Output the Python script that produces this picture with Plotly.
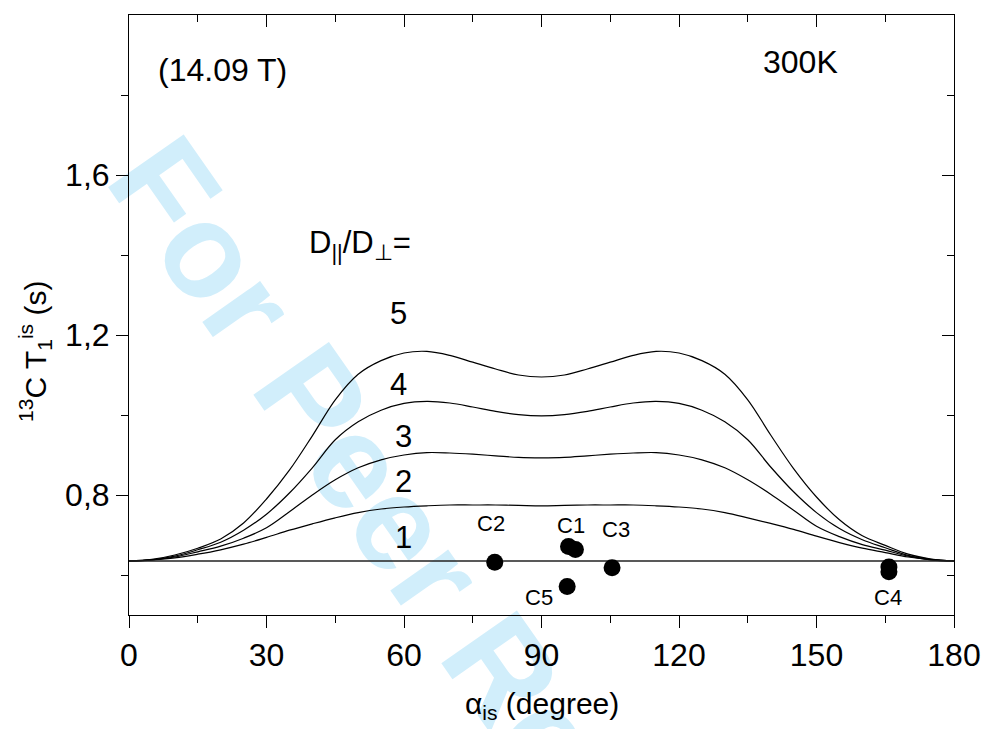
import plotly.graph_objects as go

# ---------------- data ----------------
alpha = [0, 5, 10, 15, 20, 25, 30, 35, 40, 45, 50, 55, 60, 65, 70, 75, 80, 85, 90,
         95, 100, 105, 110, 115, 120, 125, 130, 135, 140, 145, 150, 155, 160, 165, 170, 175, 180]

t1_ratio5 = [0.635, 0.639, 0.650, 0.667, 0.690, 0.730, 0.790, 0.862, 0.948, 1.038, 1.102, 1.136, 1.155, 1.159,
             1.149, 1.132, 1.115, 1.100, 1.095, 1.100, 1.115, 1.132, 1.149, 1.159, 1.155, 1.136, 1.102, 1.038,
             0.950, 0.866, 0.795, 0.738, 0.698, 0.674, 0.652, 0.640, 0.635]
t1_ratio4 = [0.635, 0.638, 0.647, 0.663, 0.682, 0.712, 0.752, 0.805, 0.868, 0.938, 0.983, 1.012, 1.029, 1.034,
             1.030, 1.020, 1.009, 1.001, 0.998, 1.001, 1.009, 1.020, 1.030, 1.034, 1.029, 1.012, 0.983, 0.938,
             0.870, 0.808, 0.756, 0.716, 0.688, 0.668, 0.649, 0.639, 0.635]
t1_ratio3 = [0.635, 0.638, 0.645, 0.658, 0.672, 0.692, 0.718, 0.758, 0.800, 0.838, 0.868, 0.888, 0.900, 0.906,
             0.905, 0.902, 0.898, 0.894, 0.893, 0.894, 0.898, 0.902, 0.905, 0.906, 0.900, 0.888, 0.868, 0.838,
             0.802, 0.762, 0.722, 0.696, 0.676, 0.662, 0.647, 0.638, 0.635]
t1_ratio2 = [0.635, 0.638, 0.643, 0.652, 0.663, 0.677, 0.694, 0.712, 0.728, 0.743, 0.756, 0.765, 0.770, 0.773,
             0.775, 0.775, 0.775, 0.774, 0.773, 0.774, 0.775, 0.775, 0.775, 0.773, 0.770, 0.765, 0.756, 0.743,
             0.729, 0.714, 0.697, 0.681, 0.667, 0.656, 0.645, 0.638, 0.635]
alpha_ratio1 = [0, 180]
t1_ratio1 = [0.635, 0.635]

# experimental points
exp_alpha = [79.8, 95.9, 97.4, 105.4, 95.6, 165.8, 165.8]
exp_t1 = [0.632, 0.671, 0.664, 0.618, 0.571, 0.620, 0.608]

site_labels = ["C2", "C1", "C3", "C5", "C4"]
site_label_alpha = [79.0, 96.5, 106.2, 89.5, 165.5]
site_label_t1 = [0.730, 0.725, 0.713, 0.545, 0.543]

ratio_labels = ["5", "4", "3", "2", "1"]
ratio_label_alpha = [58.8, 58.8, 59.8, 59.8, 59.8]
ratio_label_t1 = [1.254, 1.077, 0.946, 0.834, 0.693]

x_ticks = [0, 30, 60, 90, 120, 150, 180]
x_minor = [15, 45, 75, 105, 135, 165]
y_ticks = [0.8, 1.2, 1.6]
y_ticktext = ["0,8", "1,2", "1,6"]
y_minor = [0.6, 1.0, 1.4, 1.8]
x_range = [0, 180]
y_range = [0.5, 2.0]

FONT = "Liberation Sans, Arial, Helvetica, sans-serif"

fig = go.Figure()

for ys in [t1_ratio2, t1_ratio3, t1_ratio4, t1_ratio5]:
    fig.add_trace(go.Scatter(x=alpha, y=ys, mode="lines",
                             line=dict(color="black", width=1.2, shape="spline", smoothing=1.0),
                             showlegend=False, hoverinfo="skip"))
fig.add_trace(go.Scatter(x=alpha_ratio1, y=t1_ratio1, mode="lines",
                         line=dict(color="#222222", width=1.5),
                         showlegend=False, hoverinfo="skip"))
fig.add_trace(go.Scatter(x=exp_alpha, y=exp_t1, mode="markers",
                         marker=dict(color="black", size=17),
                         showlegend=False, hoverinfo="skip"))
# helper trace registering the mirrored (top/right) axes
fig.add_trace(go.Scatter(x=[], y=[], xaxis="x2", yaxis="y2", showlegend=False))

annotations = []
for t, xa, ya in zip(site_labels, site_label_alpha, site_label_t1):
    annotations.append(dict(x=xa, y=ya, text=t, showarrow=False, xref="x", yref="y",
                            font=dict(family=FONT, size=22, color="black")))
for t, xa, ya in zip(ratio_labels, ratio_label_alpha, ratio_label_t1):
    annotations.append(dict(x=xa, y=ya, text=t, showarrow=False, xref="x", yref="y",
                            font=dict(family=FONT, size=31, color="black")))
annotations += [
    dict(x=50.5, y=1.425, text="D<sub>||</sub>/D<sub>\u22a5</sub>=", showarrow=False,
         font=dict(family=FONT, size=31, color="black")),
    dict(x=20.5, y=1.862, text="(14.09 T)", showarrow=False,
         font=dict(family=FONT, size=32, color="black")),
    dict(x=146.5, y=1.883, text="300K", showarrow=False,
         font=dict(family=FONT, size=32, color="black")),
    dict(x=-0.114, y=0.44, xref="paper", yref="paper", textangle=-90,
         xanchor="center", yanchor="middle",
         text="<sup>13</sup>C T<sub>1</sub><sup>is</sup> (s)", showarrow=False,
         font=dict(family=FONT, size=30, color="black")),
    dict(x=0.5, y=-0.15, xref="paper", yref="paper", xanchor="center", yanchor="middle",
         text="\u03b1<sub>is</sub> (degree)", showarrow=False,
         font=dict(family=FONT, size=30, color="black")),
]

fig.update_layout(
    width=985, height=729,
    margin=dict(l=129, r=31, t=15, b=114, autoexpand=False),
    paper_bgcolor="white", plot_bgcolor="rgba(0,0,0,0)",
    font=dict(family=FONT, size=32, color="black"),
    annotations=annotations,
    shapes=[dict(type="rect", xref="paper", yref="paper", x0=0.31, x1=0.47, y0=0.0, y1=0.14,
                 layer="below", line=dict(width=0), fillcolor="rgba(0,0,0,0)",
                 label=dict(text="<b>For Peer Review</b>", textangle=55, textposition="middle center",
                            font=dict(family=FONT, size=134, color="rgb(209,238,251)")))],
    xaxis=dict(range=x_range, tickvals=x_ticks, ticks="outside", ticklen=12, tickwidth=1,
               tickcolor="black", showline=True, linecolor="black", linewidth=1, automargin=False,
               showgrid=False, zeroline=False, tickfont=dict(size=32),
               minor=dict(tickvals=x_minor, ticks="outside", ticklen=7, tickcolor="black", showgrid=False)),
    yaxis=dict(range=y_range, tickvals=y_ticks, ticktext=y_ticktext, ticks="outside", ticklen=12,
               tickwidth=1, tickcolor="black", showline=True, linecolor="black", linewidth=1,
               automargin=False, showgrid=False, zeroline=False, tickfont=dict(size=32),
               minor=dict(tickvals=y_minor, ticks="outside", ticklen=7, tickcolor="black", showgrid=False)),
    xaxis2=dict(range=x_range, overlaying="x", side="top", tickvals=x_ticks, ticks="inside",
                ticklen=12, tickcolor="black", showticklabels=False, showline=True, linecolor="black",
                showgrid=False, zeroline=False, automargin=False,
                minor=dict(tickvals=x_minor, ticks="inside", ticklen=7, tickcolor="black", showgrid=False)),
    yaxis2=dict(range=y_range, overlaying="y", side="right", tickvals=y_ticks, ticks="inside",
                ticklen=12, tickcolor="black", showticklabels=False, showline=True, linecolor="black",
                showgrid=False, zeroline=False, automargin=False,
                minor=dict(tickvals=y_minor, ticks="inside", ticklen=7, tickcolor="black", showgrid=False)),
)

fig.write_html("out.html")
